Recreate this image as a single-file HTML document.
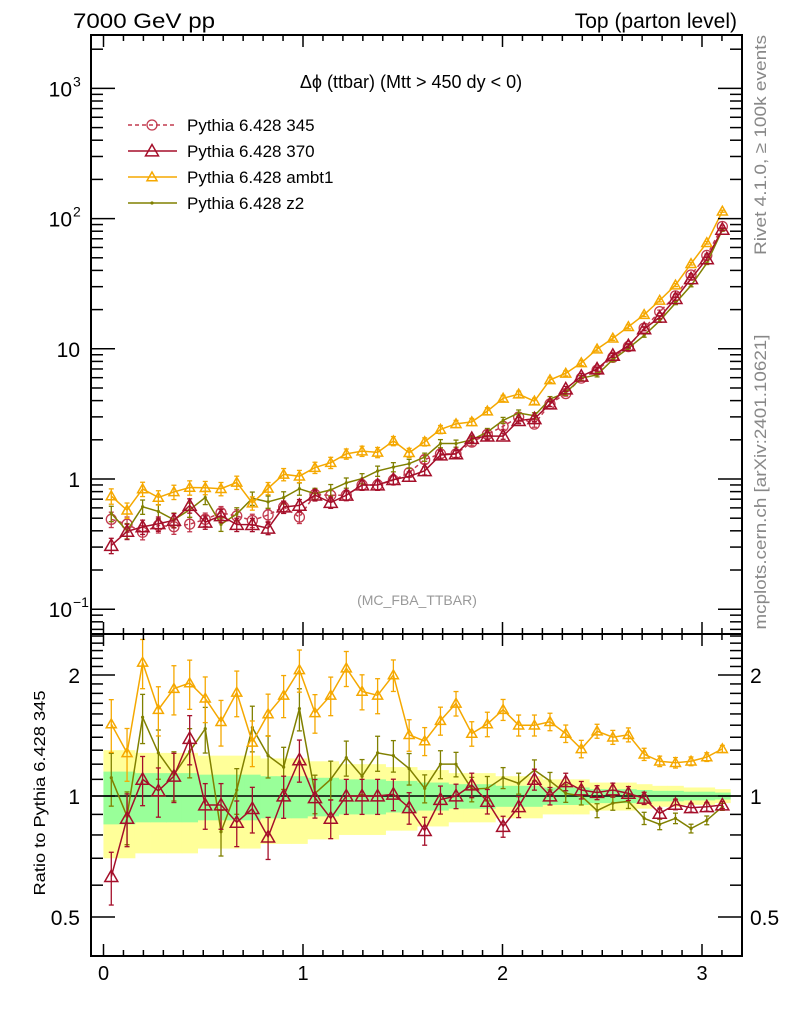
<!DOCTYPE html>
<html><head><meta charset="utf-8"><style>
body{margin:0;background:#fff;}
svg text{font-family:"Liberation Sans",sans-serif;}
</style></head><body>
<svg id="c" width="786" height="1024" viewBox="0 0 786 1024" xmlns="http://www.w3.org/2000/svg">
<defs>
<clipPath id="cm"><rect x="91" y="35" width="651" height="599"/></clipPath>
<clipPath id="cr"><rect x="91" y="634" width="651" height="322"/></clipPath>
</defs>
<g id="bands" clip-path="url(#cr)"></g>
<g id="ratio" clip-path="url(#cr)"></g>
<g id="main" clip-path="url(#cm)"></g>
<g id="axes"></g>
<text x="73" y="28" font-size="21" textLength="142" lengthAdjust="spacingAndGlyphs">7000 GeV pp</text>
<text x="737" y="28" font-size="21" text-anchor="end">Top (parton level)</text>
<text x="411" y="88" font-size="18" text-anchor="middle">Δϕ (ttbar) (Mtt &gt; 450 dy &lt; 0)</text>
<text x="417" y="605" font-size="14" fill="#999" text-anchor="middle">(MC_FBA_TTBAR)</text>
<text transform="translate(766,145) rotate(-90)" font-size="17" fill="#888" text-anchor="middle" textLength="220" lengthAdjust="spacingAndGlyphs">Rivet 4.1.0, ≥ 100k events</text>
<text transform="translate(766,482) rotate(-90)" font-size="17" fill="#888" text-anchor="middle" textLength="295" lengthAdjust="spacingAndGlyphs">mcplots.cern.ch [arXiv:2401.10621]</text>
<text transform="translate(45,793) rotate(-90)" font-size="16" text-anchor="middle" textLength="205" lengthAdjust="spacingAndGlyphs">Ratio to Pythia 6.428 345</text>
<g id="legend"></g>
</svg>
<script>
const binCenters=[0.039,0.118,0.196,0.275,0.353,0.432,0.51,0.589,0.668,0.746,0.825,0.903,0.982,1.06,1.139,1.217,1.296,1.374,1.453,1.532,1.61,1.689,1.767,1.846,1.924,2.003,2.081,2.16,2.238,2.317,2.395,2.474,2.553,2.631,2.71,2.788,2.867,2.945,3.024,3.102];
const ref345=[0.49,0.45,0.39,0.44,0.43,0.45,0.49,0.55,0.52,0.48,0.53,0.61,0.51,0.76,0.75,0.75,0.90,0.90,0.98,1.12,1.41,1.56,1.56,1.92,2.2,2.54,2.99,2.64,3.77,4.53,5.95,6.86,8.6,10.4,14.4,19.3,25.5,36.9,52.2,87];
const ratio370=[0.63,0.88,1.10,1.03,1.12,1.39,0.95,0.95,0.86,0.93,0.79,1.0,1.23,0.99,0.88,1.0,1.0,1.0,1.01,0.935,0.82,0.98,1.0,1.065,0.97,0.84,0.94,1.10,1.0,1.085,1.035,1.02,1.035,1.015,0.987,0.905,0.953,0.935,0.94,0.95];
const ratioAmbt1=[1.51,1.28,2.15,1.64,1.85,1.91,1.75,1.53,1.81,1.36,1.60,1.78,2.06,1.61,1.78,2.08,1.82,1.78,2.0,1.42,1.37,1.54,1.70,1.43,1.51,1.64,1.50,1.50,1.53,1.43,1.31,1.45,1.40,1.42,1.27,1.22,1.21,1.22,1.25,1.31];
const ratioZ2=[1.11,0.89,1.57,1.28,1.13,1.29,1.47,0.815,1.035,1.48,1.26,1.18,1.65,1.015,1.10,1.245,1.12,1.28,1.26,1.17,1.045,1.2,1.2,1.04,1.045,1.11,1.075,1.16,1.09,1.015,1.0,0.92,0.96,0.97,0.88,0.85,0.88,0.83,0.87,0.94];
const relErr=[0.15,0.15,0.14,0.14,0.14,0.14,0.13,0.13,0.13,0.13,0.12,0.12,0.12,0.11,0.11,0.10,0.10,0.10,0.09,0.09,0.08,0.08,0.07,0.07,0.07,0.06,0.06,0.06,0.05,0.05,0.05,0.04,0.04,0.04,0.035,0.03,0.03,0.025,0.025,0.02];
const xTickLabels=["0","1","2","3"];
const mainTickLabels=[[-1,"10","−1"],[0,"1",""],[1,"10",""],[2,"10","2"],[3,"10","3"]];
const ratioTickLabels=[[0.5,"0.5"],[1,"1"],[2,"2"]];

const NS="http://www.w3.org/2000/svg";
const X=v=>103.5+199.5*v;
const YM=v=>479-130.2*Math.log10(v);
const YR=v=>796-402*Math.log10(v);
const binW=Math.PI/40;
function el(tag,attrs,parent){const e=document.createElementNS(NS,tag);for(const k in attrs)e.setAttribute(k,attrs[k]);parent.appendChild(e);return e;}
const G=id=>document.getElementById(id);

binCenters.forEach((c,i)=>{
  const x0=X(c-binW/2),x1=X(c+binW/2);
  const y2=el('rect',{x:x0,y:YR(1+2*relErr[i]),width:x1-x0+0.5,height:YR(Math.max(0.05,1-2*relErr[i]))-YR(1+2*relErr[i]),fill:'#ffff99'},G('bands'));
  
  
});
binCenters.forEach((c,i)=>{
  const x0=X(c-binW/2),x1=X(c+binW/2);
  const y1=el('rect',{x:x0,y:YR(1+relErr[i]),width:x1-x0+0.5,height:YR(1-relErr[i])-YR(1+relErr[i]),fill:'#99ff99'},G('bands'));
  
  
});
const one=el('line',{x1:91,x2:742,y1:YR(1),y2:YR(1),stroke:'#000','stroke-width':1.5},G('ratio'));



function marker(type,x,y,color,g,size){
  let m;
  if(type==='circle'){m=el('circle',{cx:x,cy:y,r:5,fill:'none',stroke:color,'stroke-width':1.3},g);}
  else if(type==='tri'){const s=size;m=el('polygon',{points:`${x},${y-s} ${x-s},${y+s*0.75} ${x+s},${y+s*0.75}`,fill:'none',stroke:color,'stroke-width':1.5},g);}
  else {m=el('circle',{cx:x,cy:y,r:1.6,fill:color},g);}
  return m;
}
function series(name,vals,errs,Y,g,color,type,size,dash){
  const sg=el('g',{},g);
  
  
  const pts=vals.map((v,i)=>[X(binCenters[i]),Y(v)]);
  el('polyline',{points:pts.map(p=>p.join(',')).join(' '),fill:'none',stroke:color,'stroke-width':1.5,'stroke-dasharray':dash||'none'},sg);
  vals.forEach((v,i)=>{
    const x=X(binCenters[i]);const yt=Y(v*(1+errs[i])),yb=Y(v*(1-errs[i]));
    el('line',{x1:x,x2:x,y1:yt,y2:yb,stroke:color,'stroke-width':1.3},sg);
    el('line',{x1:x-2.5,x2:x+2.5,y1:yt,y2:yt,stroke:color,'stroke-width':1.3},sg);
    el('line',{x1:x-2.5,x2:x+2.5,y1:yb,y2:yb,stroke:color,'stroke-width':1.3},sg);
    const m=marker(type,x,Y(v),color,sg,size);
    
    
  });
}
const cRef='#c23a4f',c370='#a50f2a',cAm='#f5a800',cZ2='#808000';
const e1=relErr.map(e=>e*0.9);
const main370=ref345.map((v,i)=>v*ratio370[i]);
const mainAm=ref345.map((v,i)=>v*ratioAmbt1[i]);
const mainZ2=ref345.map((v,i)=>v*ratioZ2[i]);
series('series-345',ref345,e1,YM,G('main'),cRef,'circle',5,'4,3');
series('series-z2',mainZ2,e1,YM,G('main'),cZ2,'dot',0);
series('series-ambt1',mainAm,e1,YM,G('main'),cAm,'tri',5);
series('series-370',main370,e1,YM,G('main'),c370,'tri',6.5);
series('ratio-z2',ratioZ2,relErr,YR,G('ratio'),cZ2,'dot',0);
series('ratio-ambt1',ratioAmbt1,relErr,YR,G('ratio'),cAm,'tri',5);
series('ratio-370',ratio370,relErr,YR,G('ratio'),c370,'tri',6.5);

const A=G('axes');
[[35,634],[634,956]].forEach(([t,b])=>{
  el('rect',{x:91,y:t,width:651,height:b-t,fill:'none',stroke:'#000','stroke-width':2},A);
  for(let k=0;k<=31;k++){const v=k/10;const x=X(v);if(x>742)break;const L=(k%10===0)?12:6;
    el('line',{x1:x,x2:x,y1:b,y2:b-L,stroke:'#000','stroke-width':1.5},A);
    el('line',{x1:x,x2:x,y1:t,y2:t+L,stroke:'#000','stroke-width':1.5},A);}
});
xTickLabels.forEach((s,i)=>{const t=el('text',{x:X(+s),y:980,'font-size':20,'text-anchor':'middle'},A);t.textContent=s;
  
  });
for(let d=-2;d<=3;d++){for(let m=1;m<10;m++){const v=m*Math.pow(10,d);const y=YM(v);if(y<35||y>634)continue;const L=m===1?24:12;
  el('line',{x1:91,x2:91+L,y1:y,y2:y,stroke:'#000','stroke-width':1.5},A);
  el('line',{x1:742,x2:742-L,y1:y,y2:y,stroke:'#000','stroke-width':1.5},A);}}
mainTickLabels.forEach(([p,b,e])=>{const t=el('text',{x:e?72:80,y:YM(Math.pow(10,p))+8,'font-size':21,'text-anchor':'end'},A);t.textContent=b;
  
  
  if(e){const s=el('text',{x:73,y:YM(Math.pow(10,p))-2,'font-size':14},A);s.textContent=e;
    
    }});
[0.4,0.5,0.6,0.7,0.8,0.9,1,1.1,1.2,1.3,1.4,1.5,1.6,1.7,1.8,1.9,2,2.1,2.2,2.3,2.4,2.5].forEach(v=>{const y=YR(v);if(y<634||y>956)return;const L=(v===0.5||v===1||v===2)?24:12;
  el('line',{x1:91,x2:91+L,y1:y,y2:y,stroke:'#000','stroke-width':1.5},A);
  el('line',{x1:742,x2:742-L,y1:y,y2:y,stroke:'#000','stroke-width':1.5},A);});
ratioTickLabels.forEach(([v,s])=>{const t=el('text',{x:80,y:YR(v)+8,'font-size':21,'text-anchor':'end'},A);t.textContent=s;
  
  
  const t2=el('text',{x:750,y:YR(v)+8,'font-size':21},A);t2.textContent=s;
  
  });

const Lg=G('legend');
[['Pythia 6.428 345',cRef,'circle',5,'4,3'],['Pythia 6.428 370',c370,'tri',6.5,''],['Pythia 6.428 ambt1',cAm,'tri',5,''],['Pythia 6.428 z2',cZ2,'dot',0,'']].forEach((r,i)=>{
  const y=125+26*i;
  const g=el('g',{},Lg);
  
  
  el('line',{x1:128,x2:177,y1:y,y2:y,stroke:r[1],'stroke-width':1.5,'stroke-dasharray':r[4]||'none'},g);
  marker(r[2],152,y,r[1],g,r[3]);
  const t=el('text',{x:187,y:y+6,'font-size':17},g);t.textContent=r[0];
});
</script>
</body></html>
